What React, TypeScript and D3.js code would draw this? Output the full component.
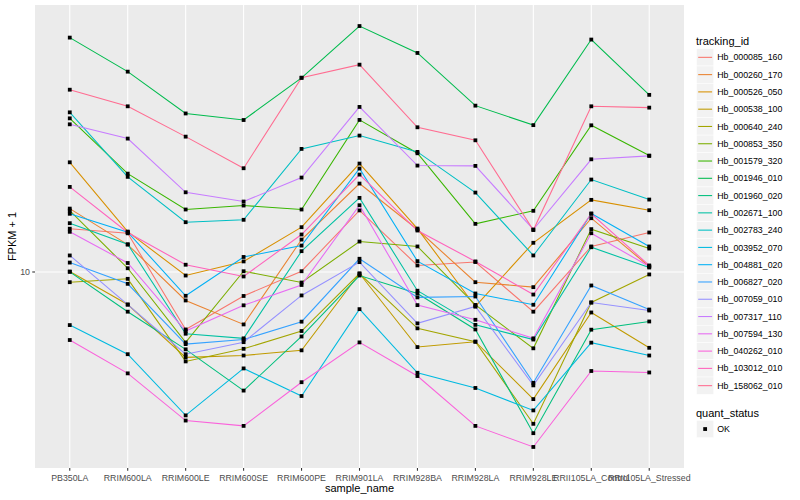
import * as d3 from 'd3'

// sample_name on the x axis
const samples = [
  'PB350LA', 'RRIM600LA', 'RRIM600LE', 'RRIM600SE', 'RRIM600PE', 'RRIM901LA',
  'RRIM928BA', 'RRIM928LA', 'RRIM928LE', 'RRII105LA_Control', 'RRII105LA_Stressed',
]

const trackingIds = [
  'Hb_000085_160', 'Hb_000260_170', 'Hb_000526_050', 'Hb_000538_100', 'Hb_000640_240',
  'Hb_000853_350', 'Hb_001579_320', 'Hb_001946_010', 'Hb_001960_020', 'Hb_002671_100',
  'Hb_002783_240', 'Hb_003952_070', 'Hb_004881_020', 'Hb_006827_020', 'Hb_007059_010',
  'Hb_007317_110', 'Hb_007594_130', 'Hb_040262_010', 'Hb_103012_010', 'Hb_158062_010',
]

// FPKM + 1, one array per gene, in sample order
const hb000085 = [13.3, 12.9, 6.85, 8.54, 10.05, 15.0, 10.44, 10.68, 7.7, 11.83, 12.97]
const hb000260 = [15.18, 11.98, 8.29, 7.08, 12.38, 17.9, 13.23, 9.35, 9.05, 14.25, 10.37]
const hb000526 = [20.59, 13.05, 9.77, 10.72, 13.43, 20.42, 13.31, 7.97, 12.12, 16.08, 15.02]
const hb000538 = [10.03, 8.07, 5.7, 5.77, 5.97, 9.9, 6.1, 6.32, 4.33, 7.66, 6.07]
const hb000640 = [9.35, 9.56, 5.55, 6.03, 6.78, 9.9, 6.9, 6.32, 3.68, 8.18, 9.84]
const hb000853 = [14.99, 10.25, 6.29, 10.05, 9.33, 12.22, 11.83, 8.05, 6.05, 13.26, 11.67]
const hb001579 = [27.5, 19.11, 15.09, 15.49, 15.09, 27.22, 21.85, 13.73, 14.96, 26.27, 21.52]
const hb001946 = [46.8, 37.4, 28.4, 27.2, 35.9, 50.5, 42.3, 29.9, 26.3, 46.2, 32.1]
const hb001960 = [10.01, 7.7, 6.01, 4.58, 6.54, 9.77, 8.68, 6.85, 3.46, 6.84, 7.22]
const hb002671 = [13.79, 12.0, 6.66, 6.46, 11.47, 16.29, 8.84, 7.06, 6.41, 11.77, 10.3]
const hb002783 = [28.61, 18.71, 13.88, 14.1, 22.49, 24.55, 22.05, 16.87, 11.15, 18.38, 16.11]
const hb003952 = [7.05, 5.82, 3.89, 5.3, 4.42, 7.83, 5.15, 4.66, 4.02, 6.28, 5.77]
const hb004881 = [14.67, 13.0, 8.55, 11.04, 11.9, 19.76, 10.74, 8.68, 8.06, 14.7, 11.83]
const hb006827 = [10.64, 9.25, 6.22, 6.41, 7.21, 10.91, 8.46, 8.51, 4.82, 9.15, 7.81]
const hb007059 = [11.15, 8.07, 5.82, 6.3, 8.57, 10.67, 7.13, 7.97, 4.74, 8.18, 7.76]
const hb007317 = [26.44, 24.07, 16.9, 15.9, 18.62, 29.65, 20.15, 20.11, 13.23, 21.0, 21.48]
const hb007594 = [13.03, 10.61, 6.78, 8.03, 9.18, 15.52, 8.04, 7.3, 6.46, 12.91, 10.37]
const hb040262 = [6.39, 5.13, 3.76, 3.63, 4.84, 6.29, 5.04, 3.63, 3.16, 5.21, 5.16]
const hb103012 = [17.51, 12.97, 10.49, 9.71, 12.8, 18.99, 13.14, 10.72, 8.62, 14.67, 10.44]
const hb158062 = [33.21, 29.77, 24.38, 19.8, 35.95, 39.16, 25.93, 23.8, 13.18, 29.77, 29.51]

const seriesValues = [
  hb000085, hb000260, hb000526, hb000538, hb000640, hb000853, hb001579, hb001946, hb001960, hb002671,
  hb002783, hb003952, hb004881, hb006827, hb007059, hb007317, hb007594, hb040262, hb103012, hb158062,
]

const yTicks = [10]
const quantLevels = ['OK']

// ggplot default hue palette for 20 levels
const palette = [
  '#F8766D', '#EA8331', '#D89000', '#C09B00', '#A3A500', '#7CAE00', '#39B600', '#00BB4E', '#00BF7D', '#00C1A3',
  '#00BFC4', '#00BAE0', '#00B0F6', '#35A2FF', '#9590FF', '#C77CFF', '#E76BF3', '#FA62DB', '#FF62BC', '#FF6C91',
]

const W = 800
const H = 500
const panel = { left: 35, right: 684, top: 5, bottom: 468 }
const font = '"Liberation Sans", Arial, Helvetica, sans-serif'

export default function App() {
  const x = d3.scalePoint<string>().domain(samples).range([panel.left, panel.right]).padding(0.6)

  const all = seriesValues.flat()
  const [lo, hi] = d3.extent(all.map(v => Math.log10(v))) as [number, number]
  const pad = (hi - lo) * 0.05
  const y = d3.scaleLog()
    .domain([Math.pow(10, lo - pad), Math.pow(10, hi + pad)])
    .range([panel.bottom, panel.top])

  const line = d3.line<number>()
    .x((_, i) => x(samples[i])!)
    .y(d => y(d))

  const keyH = 17.28
  const keyX = 696.5
  const key0 = 48.7

  return (
    <svg width={W} height={H} style={{ position: 'absolute', left: 0, top: 0, fontFamily: font }}>
      <rect width={W} height={H} fill="#fff" />
      <rect x={panel.left} y={panel.top} width={panel.right - panel.left} height={panel.bottom - panel.top} fill="#EBEBEB" />
      {yTicks.map(t => (
        <line key={t} x1={panel.left} x2={panel.right} y1={y(t)} y2={y(t)} stroke="#fff" strokeWidth={1.07} />
      ))}
      {samples.map(s => (
        <line key={s} x1={x(s)} x2={x(s)} y1={panel.top} y2={panel.bottom} stroke="#fff" strokeWidth={1.07} />
      ))}

      {seriesValues.map((vals, i) => (
        <path key={trackingIds[i]} d={line(vals)!} fill="none" stroke={palette[i]} strokeWidth={1.07} />
      ))}
      {seriesValues.map((vals, i) =>
        vals.map((v, j) => (
          <rect key={`${i}-${j}`} x={x(samples[j])! - 1.9} y={y(v) - 1.9} width={3.8} height={3.8} fill="#000" />
        ))
      )}

      {/* axes */}
      {yTicks.map(t => (
        <g key={t}>
          <line x1={panel.left - 2.75} x2={panel.left} y1={y(t)} y2={y(t)} stroke="#333" strokeWidth={1.07} />
          <text x={panel.left - 5} y={y(t) + 3.1} textAnchor="end" fontSize={8.8} fill="#4D4D4D">{t}</text>
        </g>
      ))}
      {samples.map(s => (
        <g key={s}>
          <line x1={x(s)} x2={x(s)} y1={panel.bottom} y2={panel.bottom + 2.75} stroke="#333" strokeWidth={1.07} />
          <text x={x(s)} y={480.5} textAnchor="middle" fontSize={8.8} fill="#4D4D4D">{s}</text>
        </g>
      ))}
      <text x={(panel.left + panel.right) / 2} y={492} textAnchor="middle" fontSize={11} fill="#000">sample_name</text>
      <text transform={`translate(16,${(panel.top + panel.bottom) / 2}) rotate(-90)`} textAnchor="middle" fontSize={11} fill="#000">FPKM + 1</text>

      {/* legend: tracking_id */}
      <text x={696} y={44.5} fontSize={11} fill="#000">tracking_id</text>
      {trackingIds.map((id, i) => {
        const ky = key0 + i * keyH
        return (
          <g key={id}>
            <rect x={keyX} y={ky} width={keyH} height={keyH} fill="#F2F2F2" stroke="#fff" strokeWidth={0.5} />
            <line x1={keyX + 1.7} x2={keyX + keyH - 1.7} y1={ky + keyH / 2} y2={ky + keyH / 2} stroke={palette[i]} strokeWidth={1.07} />
            <text x={keyX + keyH + 3.5} y={ky + keyH / 2 + 3.1} fontSize={8.8} fill="#000">{id}</text>
          </g>
        )
      })}

      {/* legend: quant_status */}
      <text x={696} y={416.5} fontSize={11} fill="#000">quant_status</text>
      {quantLevels.map((q, i) => {
        const ky = 420.4 + i * keyH
        return (
          <g key={q}>
            <rect x={keyX} y={ky} width={keyH} height={keyH} fill="#F2F2F2" stroke="#fff" strokeWidth={0.5} />
            <rect x={keyX + keyH / 2 - 1.9} y={ky + keyH / 2 - 1.9} width={3.8} height={3.8} fill="#000" />
            <text x={keyX + keyH + 3.5} y={ky + keyH / 2 + 3.1} fontSize={8.8} fill="#000">{q}</text>
          </g>
        )
      })}
    </svg>
  )
}
